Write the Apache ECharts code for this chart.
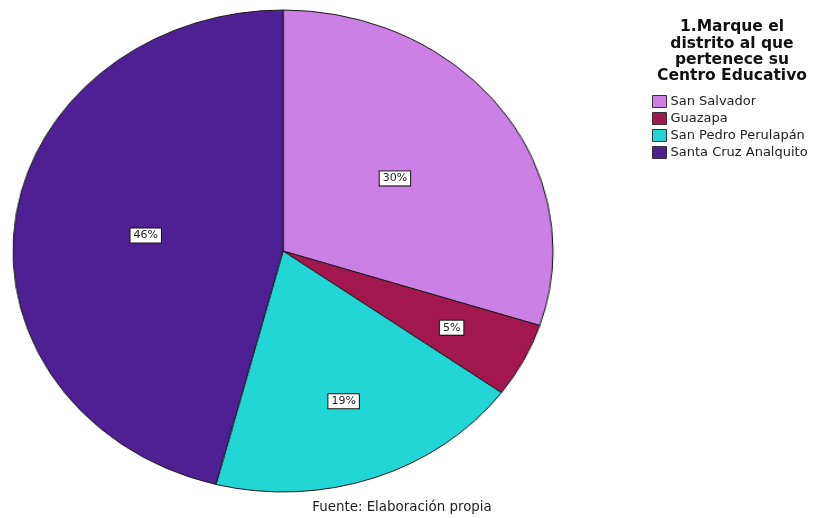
<!DOCTYPE html>
<html>
<head>
<meta charset="utf-8">
<script src="https://cdn.jsdelivr.net/npm/echarts@6/dist/echarts.min.js"></script>
<style>
  html, body { margin: 0; padding: 0; background: #fff; }
  #wrap { position: relative; width: 817px; height: 518px; overflow: hidden; }
  .layer { position: absolute; left: 0; top: 0; width: 817px; height: 518px; }
  /* the pie is drawn as an ellipse: horizontal radius 270, vertical 241 */
  #pieLayer { transform-origin: 283px 251px; transform: scaleX(1.1203); }
</style>
</head>
<body>
<div id="wrap">
  <div id="pieLayer" class="layer"></div>
  <div id="textLayer" class="layer"></div>
</div>
<script>
const categories = ['San Salvador', 'Guazapa', 'San Pedro Perulapán', 'Santa Cruz Analquito'];
const percents = [30, 5, 19, 46];
const colors = ['#CC80E6', '#A2174E', '#22D6D6', '#4F1F94'];
const titleText = '1.Marque el\ndistrito al que\npertenece su\nCentro Educativo';
const sourceText = 'Fuente: Elaboración propia';

const CX = 283, CY = 251, R = 241, STRETCH = 1.1203;
const FONT = '"DejaVu Sans", "Liberation Sans", sans-serif';

// Filled, outlined pie (stretched horizontally by its layer)
const pieChart = echarts.init(document.getElementById('pieLayer'), null, { renderer: 'canvas' });
pieChart.setOption({
  animation: false,
  series: [{
    type: 'pie',
    center: [CX, CY],
    radius: [0, R],
    startAngle: 90,
    clockwise: true,
    label: { show: false },
    labelLine: { show: false },
    itemStyle: { borderColor: '#1a1a1a', borderWidth: 1 },
    emphasis: { disabled: true },
    data: categories.map((name, i) => ({
      name: name,
      value: percents[i],
      itemStyle: { color: colors[i] }
    }))
  }]
});

// Label distance from the centre (fraction of radius): half radius for wide
// slices, the sector's area centroid for narrow ones
const total = percents.reduce((a, b) => a + b, 0);
function labelFraction(share) {
  if (share >= 0.25) return 0.5;
  const theta = 2 * Math.PI * share;
  return 1.03 * 4 * Math.sin(theta / 2) / (3 * theta);
}

// Unstretched layer: title, legend, source note and the slice labels
const textChart = echarts.init(document.getElementById('textLayer'), null, { renderer: 'canvas' });
textChart.setOption({
  animation: false,
  title: [{
    text: titleText,
    left: 732,
    top: 19,
    padding: 0,
    textAlign: 'center',
    textStyle: { fontFamily: FONT, fontSize: 15.5, fontWeight: 'bold', color: '#111', lineHeight: 16.4 }
  }, {
    text: sourceText,
    left: 402,
    top: 500,
    padding: 0,
    textAlign: 'center',
    textStyle: { fontFamily: FONT, fontSize: 13.4, fontWeight: 'normal', color: '#222', lineHeight: 15 }
  }],
  legend: {
    orient: 'vertical',
    left: 652,
    top: 95,
    padding: 0,
    icon: 'rect',
    itemWidth: 14,
    itemHeight: 12,
    itemGap: 4,
    selectedMode: false,
    data: categories.map((name, i) => ({
      name: name,
      itemStyle: { color: colors[i], opacity: 1, borderColor: '#333', borderWidth: 1 }
    })),
    textStyle: { fontFamily: FONT, fontSize: 13, color: '#222', lineHeight: 12, padding: [0, 0, 0, -1] }
  },
  series: [{
    type: 'pie',
    center: [CX, CY],
    radius: [0, R],
    startAngle: 90,
    clockwise: true,
    percentPrecision: 0,
    itemStyle: { color: 'rgba(0,0,0,0)' },
    emphasis: { disabled: true },
    labelLine: { show: false },
    label: {
      show: true,
      position: 'inside',
      formatter: '{d}%',
      fontFamily: FONT,
      fontSize: 11,
      color: '#222',
      backgroundColor: '#fff',
      borderColor: '#111',
      borderWidth: 1,
      padding: [2, 3, 1, 3]
    },
    // move each label from mid-radius to its chosen distance, then widen to the ellipse
    labelLayout: function (params) {
      const r = params.labelRect;
      const mx = r.x + r.width / 2 - CX;
      const my = r.y + r.height / 2 - CY;
      const k = labelFraction(percents[params.dataIndex] / total) / 0.5;
      return { dx: mx * k * STRETCH - mx, dy: my * k - my };
    },
    data: categories.map((name, i) => ({ name: name, value: percents[i] }))
  }]
});
</script>
</body>
</html>
